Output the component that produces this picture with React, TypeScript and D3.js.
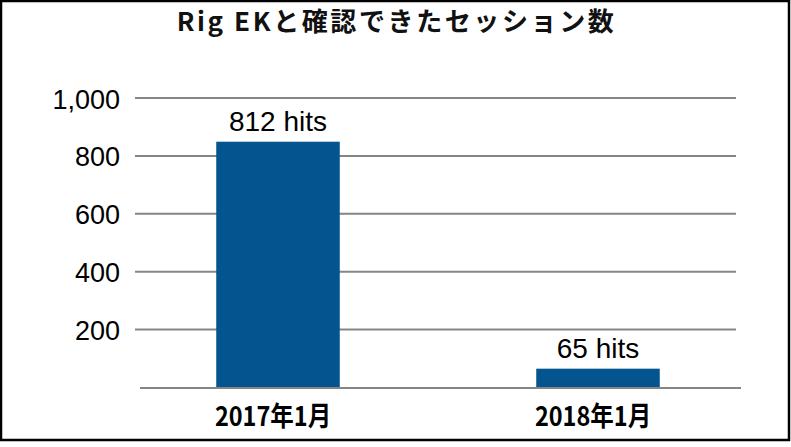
import React, { useRef, useEffect } from 'react';
import * as d3 from 'd3';

const categories = ['2017年1月', '2018年1月'];
// bar heights as drawn in the picture (the first bar is drawn taller than its label says)
const barValues = [849, 65];
const hitLabels = ['812 hits', '65 hits'];
const yTicks = [200, 400, 600, 800, 1000];

const title = 'Rig EKと確認できたセッション数';

const width = 791;
const height = 447;

const App: React.FC = () => {
    const svgRef = useRef<SVGSVGElement | null>(null);

    useEffect(() => {
        if (!svgRef.current) return;
        const svg = d3.select(svgRef.current);
        svg.selectAll('*').remove();

        svg.append('rect')
            .attr('width', width)
            .attr('height', height)
            .attr('fill', 'white');

        // frame
        svg.append('rect')
            .attr('x', 1)
            .attr('y', 1)
            .attr('width', 788)
            .attr('height', 439)
            .attr('fill', 'none')
            .attr('stroke', 'black')
            .attr('stroke-width', 2.5);

        const y = d3.scaleLinear().domain([0, 1000]).range([387.5, 98]);
        const x = d3
            .scaleBand<string>()
            .domain(categories)
            .range([118, 758])
            .paddingInner(0.614)
            .paddingOuter(0.307);

        const fmt = d3.format(',');

        // gridlines
        svg.append('g')
            .selectAll('line')
            .data(yTicks)
            .enter()
            .append('line')
            .attr('x1', 135)
            .attr('x2', 736)
            .attr('y1', (d) => y(d))
            .attr('y2', (d) => y(d))
            .attr('stroke', '#858585')
            .attr('stroke-width', 2);

        svg.append('g')
            .selectAll('text')
            .data(yTicks)
            .enter()
            .append('text')
            .attr('x', 120)
            .attr('y', (d) => y(d) + 10.5)
            .attr('text-anchor', 'end')
            .attr('font-family', "'Liberation Sans', Arial, sans-serif")
            .attr('font-size', '27px')
            .attr('fill', 'black')
            .text((d) => fmt(d));

        // bars
        svg.append('g')
            .selectAll('rect')
            .data(barValues)
            .enter()
            .append('rect')
            .attr('x', (_, i) => x(categories[i])!)
            .attr('y', (d) => y(d))
            .attr('width', x.bandwidth())
            .attr('height', (d) => y(0) - y(d))
            .attr('fill', '#03548f');

        // baseline (sits a little right of the gridlines)
        svg.append('line')
            .attr('x1', 140)
            .attr('x2', 741)
            .attr('y1', 388)
            .attr('y2', 388)
            .attr('stroke', '#858585')
            .attr('stroke-width', 2);

        // value labels
        svg.append('g')
            .selectAll('text')
            .data(barValues)
            .enter()
            .append('text')
            .attr('x', (_, i) => x(categories[i])! + x.bandwidth() / 2)
            .attr('y', (d) => y(d) - 11)
            .attr('text-anchor', 'middle')
            .attr('font-family', "'Liberation Sans', Arial, sans-serif")
            .attr('font-size', '28px')
            .attr('fill', 'black')
            .text((_, i) => hitLabels[i]);

        // category labels, squeezed a bit like the narrow face in the original
        svg.append('g')
            .selectAll('text')
            .data(categories)
            .enter()
            .append('text')
            .attr(
                'transform',
                (d) =>
                    `translate(${x(d)! + x.bandwidth() / 2 - 5},425.5) scale(0.87,1)`,
            )
            .attr('text-anchor', 'middle')
            .attr('font-family', "'Noto Sans CJK JP', sans-serif")
            .attr('font-weight', 'bold')
            .attr('font-size', '27px')
            .attr('fill', 'black')
            .text((d) => d);

        // title
        svg.append('text')
            .attr('x', width / 2 + 1)
            .attr('y', 31)
            .attr('text-anchor', 'middle')
            .attr('font-family', "'Noto Sans CJK JP', sans-serif")
            .attr('font-weight', 'bold')
            .attr('font-size', '26px')
            .attr('letter-spacing', '2.6px')
            .attr('fill', '#111')
            .text(title);
    }, []);

    return (
        <div style={{ position: 'absolute', left: 0, top: 0 }}>
            <svg
                ref={svgRef}
                width={width}
                height={height}
                style={{ display: 'block' }}
            ></svg>
        </div>
    );
};

export default App;
